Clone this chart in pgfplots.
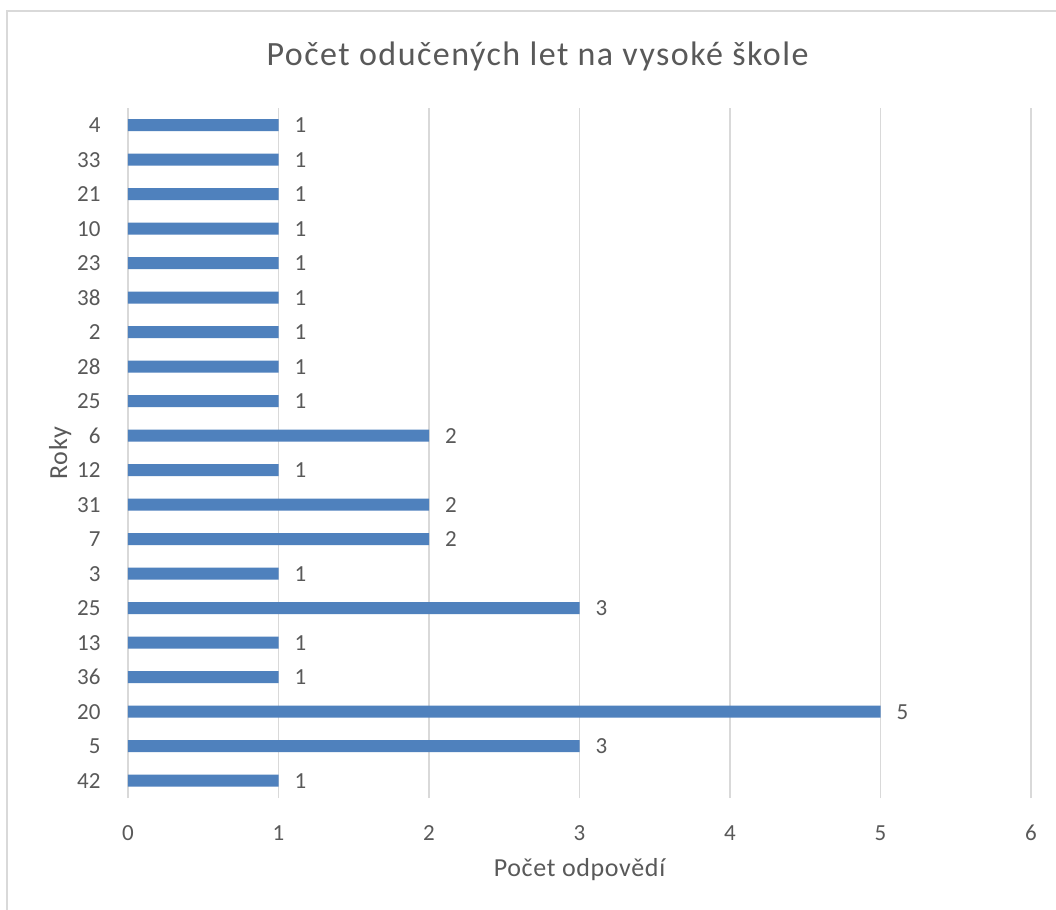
\documentclass[border=0pt]{standalone}
\usepackage{pgfplots}
\pgfplotsset{compat=1.18}
\usepackage{fontspec}
\setmainfont{Carlito}
\newfontfamily\titlefont[LetterSpace=4.4]{Carlito}
\newfontfamily\labelfont[LetterSpace=2.5]{Carlito}
\definecolor{barblue}{HTML}{4F81BD}
\definecolor{gridgray}{HTML}{D9D9D9}
\definecolor{txtgray}{HTML}{595959}
\begin{document}
\begin{tikzpicture}
\useasboundingbox (0,0) rectangle (1056bp,910bp);
\fill[white] (0,0) rectangle (1056bp,910bp);
\draw[gridgray, line width=1.5bp] (7bp,-20bp) -- (7bp,899bp) -- (1080bp,899bp);
\begin{axis}[
  at={(128bp,112bp)}, anchor=south west,
  scale only axis, width=903bp, height=690bp,
  xbar, bar width=12bp,
  xmin=0, xmax=6, ymin=-0.5, ymax=19.5,
  xtick={0,1,2,3,4,5,6},
  ytick={0,...,19},
  yticklabels={42,5,20,36,13,25,3,7,31,12,6,25,28,2,38,23,10,21,33,4},
  /pgf/number format/assume math mode=true,
  axis line style={draw=none},
  major tick style={draw=none},
  xmajorgrids, major grid style={gridgray, line width=1.5bp},
  ticklabel style={font=\fontsize{23bp}{26bp}\selectfont, text=txtgray},
  xticklabel style={anchor=center, yshift=-35bp},
  yticklabel style={anchor=east, inner sep=0pt, xshift=-23bp},
  title={Počet odučených let na vysoké škole},
  title style={font=\fontsize{34bp}{40bp}\titlefont, text=txtgray, at={(axis description cs:0.4535,1.0667)}, anchor=center},
  xlabel={Počet odpovědí},
  xlabel style={font=\fontsize{26bp}{30bp}\labelfont, text=txtgray, at={(axis description cs:0.5,-0.1043)}, anchor=center},
  ylabel={Roky},
  ylabel style={font=\fontsize{26bp}{30bp}\labelfont, text=txtgray, at={(axis description cs:-0.075,0.5)}, anchor=center},
  nodes near coords,
  every node near coord/.append style={font=\fontsize{23bp}{26bp}\selectfont, text=txtgray, anchor=west, inner sep=0pt, xshift=16bp},
]
\addplot[fill=barblue, draw=none] coordinates {
(1,0) (3,1) (5,2) (1,3) (1,4) (3,5) (1,6) (2,7) (2,8) (1,9)
(2,10) (1,11) (1,12) (1,13) (1,14) (1,15) (1,16) (1,17) (1,18) (1,19)
};
\end{axis}
\end{tikzpicture}
\end{document}
